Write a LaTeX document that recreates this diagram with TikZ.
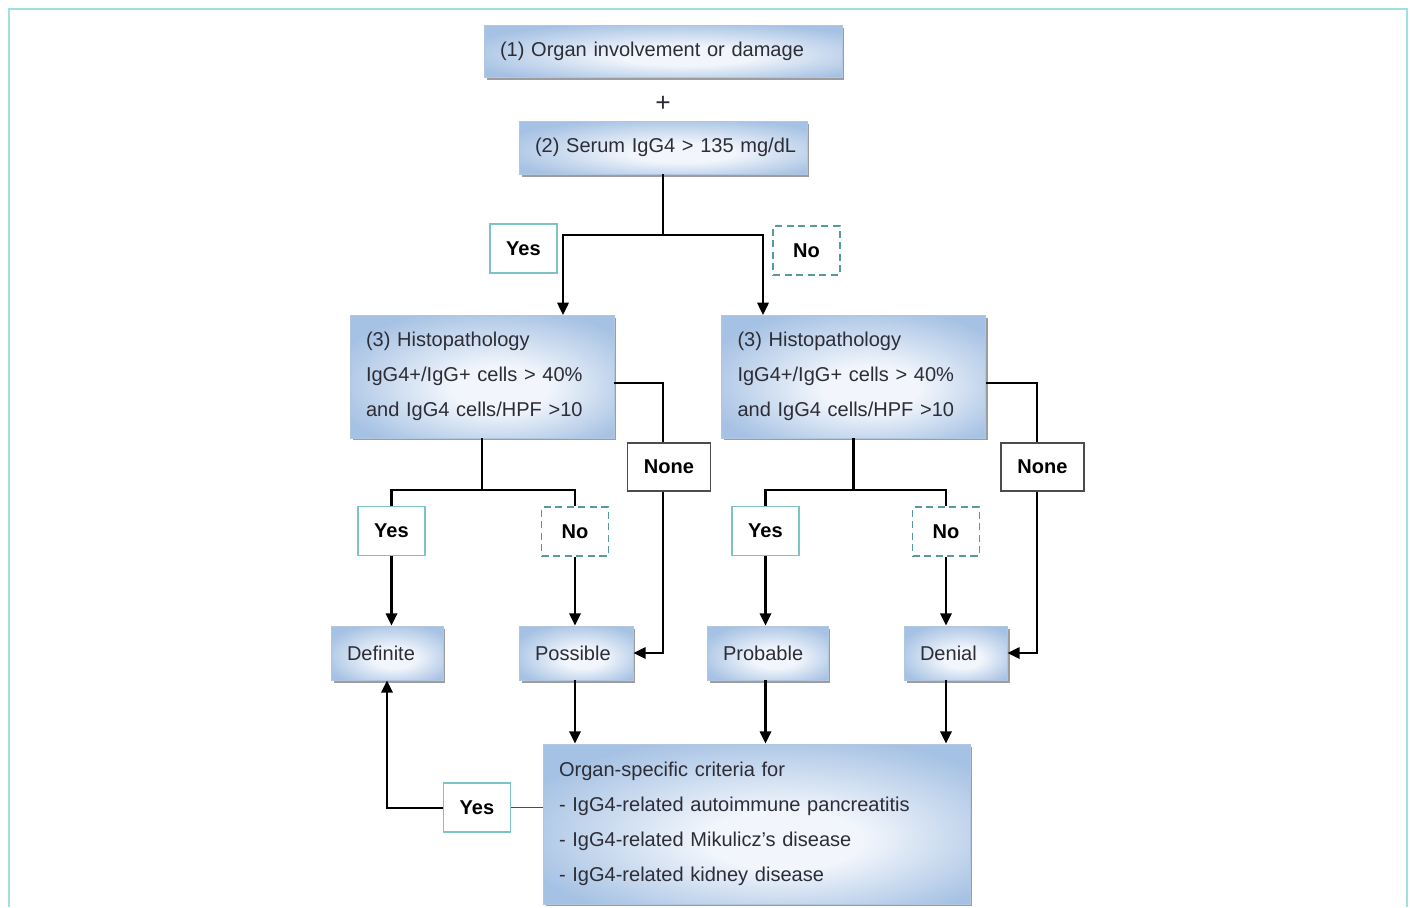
\documentclass[tikz,border=0pt]{standalone}
\usepackage{fontspec}
\setmainfont{Liberation Sans}
\usetikzlibrary{arrows.meta,shadows}

\definecolor{boxblue}{RGB}{165,193,227}
\definecolor{boxlight}{RGB}{242,246,252}
\definecolor{boxedge}{RGB}{178,198,224}
\definecolor{tagteal}{RGB}{125,195,195}
\definecolor{noteal}{RGB}{85,155,155}
\definecolor{framecyan}{RGB}{160,224,224}
\definecolor{textgray}{RGB}{45,45,55}
\pgfdeclareradialshading{boxshade}{\pgfpoint{4bp}{-6bp}}{color(0bp)=(boxlight); color(9bp)=(boxlight); color(31bp)=(boxblue); color(50bp)=(boxblue)}
\newcommand\diagfont{\fontsize{11.4}{19.9}\selectfont}

\begin{document}
\begin{tikzpicture}[x=0.02cm,y=-0.02cm,line width=1.15pt,font=\diagfont,
  stage/.style={draw=boxedge,line width=0.5pt,shading=boxshade,drop shadow={shadow xshift=0.05cm,shadow yshift=-0.05cm,fill=black!55,opacity=0.7},align=left,inner xsep=0.32cm,inner ysep=0pt,text=textgray},
  yes tag/.style={draw=tagteal,line width=0.6pt,fill=white,font=\diagfont\bfseries,minimum width=1.34cm,minimum height=0.98cm,inner sep=0pt},
  no tag/.style={yes tag,draw=noteal,line width=0.8pt,dash pattern=on 4pt off 2.6pt},
  none tag/.style={yes tag,draw=black!70,minimum width=1.66cm,minimum height=0.96cm},
  arr/.style={-{Triangle[length=7pt,width=6.5pt]}}]
  \useasboundingbox (0,0) rectangle (1410,907);
  \draw[framecyan,line width=1.2pt] (9,907) -- (9,9) -- (1407,9) -- (1407,907);

  % top of the chart
  \node[stage,text width=6.52cm,minimum height=1.04cm] (organ) at (663,51) {(1) Organ involvement or damage};
  \node[text=textgray,font=\fontsize{15}{15}\selectfont] (plus) at (663,104) {+};
  \node[stage,text width=5.12cm,minimum height=1.06cm] (serum) at (663,147.5) {\mbox{(2) Serum IgG4 > 135 mg/dL}};
  \node[yes tag] (yesA) at (523.5,248.5) {Yes};
  \node[no tag] (noA) at (806.5,250.5) {No};

  % histopathology
  \node[stage,text width=4.64cm,minimum height=2.46cm] (histL) at (482,376.5) {(3) Histopathology\\IgG4+/IgG+ cells > 40\%\\and IgG4 cells/HPF >10};
  \node[stage,text width=4.64cm,minimum height=2.46cm] (histR) at (853.5,376.5) {(3) Histopathology\\IgG4+/IgG+ cells > 40\%\\and IgG4 cells/HPF >10};
  \node[none tag] (noneL) at (669,467) {None};
  \node[none tag] (noneR) at (1042.5,467) {None};
  \node[yes tag] (yesL) at (391.5,531) {Yes};
  \node[no tag] (noL) at (575,531.5) {No};
  \node[yes tag] (yesR) at (765.5,531) {Yes};
  \node[no tag] (noR) at (946,531.5) {No};

  % outcomes
  \node[stage,text width=1.6cm,minimum height=1.08cm] (definite) at (387,653) {Definite};
  \node[stage,text width=1.64cm,minimum height=1.08cm] (possible) at (576,653) {Possible};
  \node[stage,text width=1.78cm,minimum height=1.08cm] (probable) at (767.5,653) {Probable};
  \node[stage,text width=1.42cm,minimum height=1.08cm] (denial) at (955.5,653) {Denial};
  \node[stage,text width=7.9cm,minimum height=3.2cm] (criteria) at (756.5,824) {Organ-specific criteria for\\- IgG4-related autoimmune pancreatitis\\- IgG4-related Mikulicz’s disease\\- IgG4-related kidney disease};
  \node[yes tag] (yesB) at (477,807.5) {Yes};

  \coordinate (splitA) at (663,235);
  \coordinate (inL) at (563,315);
  \coordinate (inR) at (763,315);
  \draw (serum.south) -- (splitA);
  \draw[arr] (splitA) -| (inL);
  \draw[arr] (splitA) -| (inR);

  \coordinate (splitL) at (482,490);
  \coordinate (splitR) at (853.5,490);
  \draw (histL.south) -- (splitL);
  \draw (splitL) -| (yesL.north);
  \draw (splitL) -| (noL.north);
  \draw (histR.south) -- (splitR);
  \draw (splitR) -| (yesR.north);
  \draw (splitR) -| (noR.north);

  \draw[arr] (yesL.south) -- (yesL.south |- definite.north);
  \draw[arr] (noL.south) -- (noL.south |- possible.north);
  \draw[arr] (yesR.south) -- (yesR.south |- probable.north);
  \draw[arr] (noR.south) -- (noR.south |- denial.north);

  \coordinate (kinkL) at (663,383);
  \coordinate (kinkR) at (1037,383);
  \draw (histL.east |- kinkL) -- (kinkL) -- (kinkL |- noneL.north);
  \draw[arr] (kinkL |- noneL.south) |- (possible.east);
  \draw (histR.east |- kinkR) -- (kinkR) -- (kinkR |- noneR.north);
  \draw[arr] (kinkR |- noneR.south) |- (denial.east);

  \draw[arr] (noL.south |- possible.south) -- (noL.south |- criteria.north);
  \draw[arr] (yesR.south |- probable.south) -- (yesR.south |- criteria.north);
  \draw[arr] (noR.south |- denial.south) -- (noR.south |- criteria.north);

  \draw[line width=0.6pt,black!70] (criteria.west |- yesB.east) -- (yesB.east);
  \draw[arr] (yesB.west) -| (definite.south);
\end{tikzpicture}
\end{document}
